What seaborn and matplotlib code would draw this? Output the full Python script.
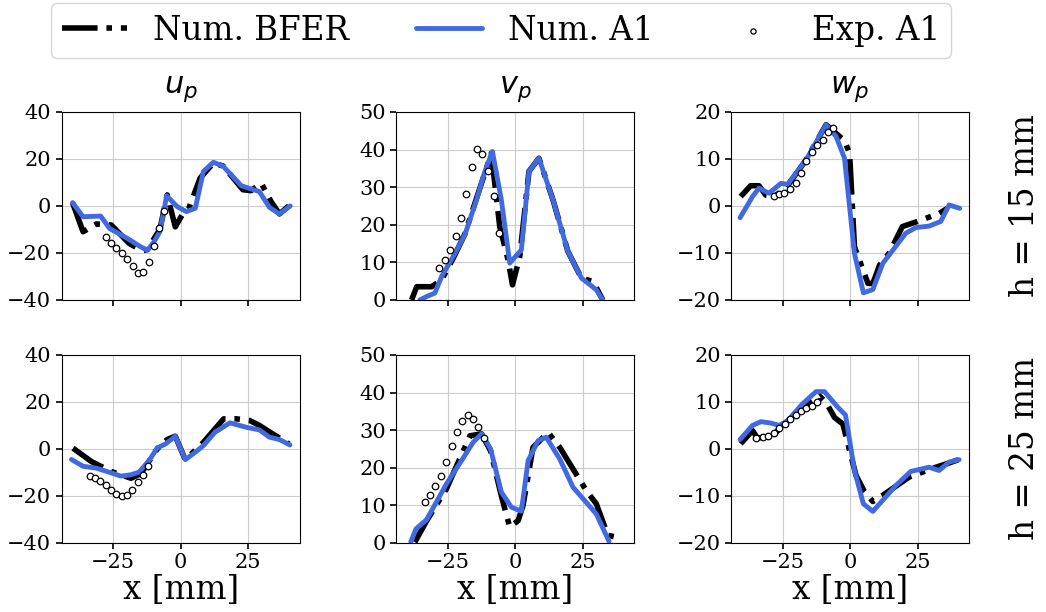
import matplotlib
matplotlib.use("Agg")
import matplotlib.pyplot as plt
import seaborn as sns

# --- данные: u_p, h = 15 mm
u15_bfer_x = [-40, -36.1, -31.2, -25.7, -19.0, -14.1, -12.3, -9.9, -7.7, -5.0, -2.0, 0.5, 3.0, 7.2, 12.1, 15.7, 23.0, 26.0, 29.8, 33.4, 36.5, 40]
u15_bfer_y = [1.4, -11.0, -7.7, -8.1, -16.0, -19.1, -18.5, -14.0, -10.0, 4.7, -8.9, -3.9, -1.0, 11.9, 18.3, 17.0, 6.9, 6.5, 9.7, 1.9, -3.4, 0.0]
u15_a1_x = [-40.0, -36.1, -29.6, -26.3, -19.6, -14.8, -12.3, -9.9, -7.7, -5.2, -1.3, 2.1, 5.4, 8.4, 12.1, 15.7, 22.4, 29.1, 32.8, 36.5, 40.5]
u15_a1_y = [1.4, -4.6, -4.3, -9.6, -13.9, -17.4, -18.9, -15.3, -11.0, 4.3, -0.3, -2.4, -1.0, 14.7, 18.6, 16.9, 8.6, 6.1, -0.6, -3.4, 0.0]
u15_exp_x = [-27.8, -25.7, -23.8, -21.8, -19.9, -17.8, -15.9, -13.9, -11.8, -9.9, -7.9, -6.0]
u15_exp_y = [-13.4, -15.6, -17.7, -20.0, -22.6, -25.7, -28.6, -28.3, -24.0, -17.1, -9.3, -2.0]

# --- v_p, h = 15 mm
v15_bfer_x = [-38.4, -36.5, -31.0, -27.3, -23.0, -18.7, -14.4, -8.9, -5.8, -2.7, -1.1, 1.6, 5.0, 8.7, 13.9, 19.4, 24.4, 28.7, 32.3]
v15_bfer_y = [0.0, 3.5, 3.5, 5.3, 11.1, 17.5, 27.0, 39.0, 19.5, 10.6, 4.0, 11.5, 34.2, 37.7, 26.6, 12.9, 5.8, 4.9, 0.0]
v15_a1_x = [-35.3, -32.8, -29.8, -27.3, -23.0, -18.7, -14.4, -11.3, -8.5, -5.2, -2.1, 2.2, 5.0, 8.7, 13.9, 19.4, 24.4, 29.9, 32.3]
v15_a1_y = [0.0, 0.9, 1.8, 6.2, 11.5, 17.3, 26.6, 34.2, 39.5, 26.6, 9.8, 13.3, 34.2, 37.7, 26.6, 12.9, 5.8, 2.7, 0.0]
v15_exp_x = [-28.2, -26.1, -24.1, -22.1, -20.2, -18.1, -16.1, -14.2, -12.2, -10.1, -8.1, -6.0]
v15_exp_y = [8.6, 10.6, 13.4, 16.9, 21.7, 28.2, 35.4, 40.1, 38.8, 34.3, 27.6, 17.9]

# --- w_p, h = 15 mm
w15_bfer_x = [-40.5, -36.8, -33.7, -31.2, -28.1, -23.8, -16.3, -8.9, -2.1, -0.2, 1.6, 6.6, 8.4, 10.9, 14.4, 19.3, 24.9, 32.9, 36.0]
w15_bfer_y = [2.0, 4.3, 4.3, 2.3, 2.0, 3.8, 9.8, 17.3, 13.9, 11.2, -8.7, -16.5, -16.5, -12.6, -10.1, -4.4, -3.3, -1.6, -0.5]
w15_a1_x = [-40.7, -36.1, -33.7, -30.0, -25.6, -23.1, -16.3, -8.9, -5.2, -2.1, 1.6, 4.9, 8.4, 12.1, 20.6, 24.3, 29.2, 33.5, 36.6, 40.5]
w15_a1_y = [-2.5, 2.0, 3.8, 2.7, 4.8, 4.6, 9.8, 17.3, 14.8, 10.2, -10.1, -18.5, -17.8, -12.2, -5.8, -4.6, -4.3, -3.3, 0.2, -0.5]
w15_exp_x = [-28.1, -26.2, -24.3, -22.2, -20.2, -18.2, -16.2, -14.2, -12.3, -10.1, -8.2, -6.2]
w15_exp_y = [2.1, 2.5, 2.8, 3.6, 4.8, 7.1, 9.5, 11.4, 12.9, 14.1, 15.7, 16.6]

# --- u_p, h = 25 mm
u25_bfer_x = [-39.8, -33.0, -25.7, -18.4, -14.8, -8.7, -5.0, -2.0, 1.7, 8.4, 15.9, 20.6, 25.5, 29.1, 34.0, 40.1]
u25_bfer_y = [0.3, -5.4, -9.6, -12.5, -10.6, 0.0, 4.0, 5.4, -4.6, 2.8, 12.8, 12.8, 12.1, 10.0, 6.4, 2.1]
u25_a1_x = [-40.4, -36.1, -31.2, -25.7, -22.1, -18.4, -15.4, -11.7, -8.7, -5.6, -2.0, 1.7, 5.4, 8.4, 12.7, 18.2, 24.3, 29.1, 32.8, 36.5, 40.4]
u25_a1_y = [-4.5, -7.4, -8.2, -10.2, -11.6, -11.0, -9.9, -5.0, 0.4, 2.1, 5.4, -4.6, -1.4, 1.4, 7.1, 11.1, 9.2, 8.1, 5.0, 4.0, 1.7]
u25_exp_x = [-33.7, -31.7, -29.8, -27.8, -25.7, -23.8, -21.8, -19.9, -17.9, -15.9, -13.9, -12.0]
u25_exp_y = [-11.6, -12.2, -13.5, -15.2, -17.7, -19.3, -20.1, -19.6, -17.6, -14.3, -11.0, -7.2]

# --- v_p, h = 25 mm
v25_bfer_x = [-37.2, -32.8, -25.5, -16.8, -12.5, -9.2, -5.2, -2.1, 1.0, 2.8, 6.5, 12.1, 16.4, 26.2, 29.9, 34.2, 37.5]
v25_bfer_y = [0.2, 5.9, 14.4, 28.5, 29.0, 24.5, 12.5, 4.2, 5.9, 9.9, 25.4, 29.4, 25.4, 13.9, 10.4, 2.0, 1.5]
v25_a1_x = [-38.7, -36.8, -32.8, -25.5, -19.9, -15.6, -12.5, -9.2, -5.2, -1.5, 2.2, 4.7, 8.4, 11.4, 16.4, 21.3, 29.9, 34.6]
v25_a1_y = [0.2, 3.7, 6.2, 15.7, 21.9, 26.8, 29.0, 25.0, 13.5, 9.5, 8.4, 21.9, 27.2, 28.1, 22.3, 14.8, 7.7, 0.4]
v25_exp_x = [-33.6, -31.6, -29.6, -27.7, -25.6, -23.6, -21.7, -19.7, -17.6, -15.6, -13.7, -11.6]
v25_exp_y = [11.0, 12.8, 15.0, 17.8, 21.6, 25.7, 29.5, 32.5, 34.1, 33.0, 30.9, 28.0]

# --- w_p, h = 25 mm
w25_bfer_x = [-40.5, -36.1, -34.3, -30.0, -27.5, -17.6, -11.4, -8.9, -5.8, -2.7, 2.2, 5.3, 8.4, 12.0, 21.8, 31.7, 36.6, 40.0]
w25_bfer_y = [1.1, 3.9, 2.3, 2.7, 3.5, 9.0, 11.3, 9.9, 6.7, 5.3, -5.7, -9.1, -11.2, -9.9, -6.0, -3.9, -3.0, -2.3]
w25_a1_x = [-40.7, -36.1, -33.0, -29.3, -26.2, -23.1, -17.6, -12.6, -9.5, -4.6, -1.7, 1.6, 4.9, 8.4, 16.9, 22.4, 29.2, 32.9, 36.6, 40.3]
w25_a1_y = [2.0, 5.0, 5.8, 5.5, 5.0, 6.0, 9.6, 12.2, 12.2, 8.9, 7.2, -4.6, -11.7, -13.3, -7.8, -4.8, -3.9, -4.6, -2.8, -2.3]
w25_exp_x = [-34.7, -32.4, -30.3, -28.1, -26.2, -24.1, -22.2, -20.2, -18.2, -16.2, -14.1, -12.1]
w25_exp_y = [2.3, 2.5, 2.7, 3.4, 4.4, 5.3, 6.4, 7.2, 8.1, 8.7, 9.2, 9.9]

titles = ["$u_p$", "$v_p$", "$w_p$"]
row_labels = ["h = 15 mm", "h = 25 mm"]
ylims = [(-40, 40), (0, 50), (-20, 20)]
yticks = [[-40, -20, 0, 20, 40], [0, 10, 20, 30, 40, 50], [-20, -10, 0, 10, 20]]
xticks = [-25, 0, 25]

panels = [
    [(u15_bfer_x, u15_bfer_y, u15_a1_x, u15_a1_y, u15_exp_x, u15_exp_y),
     (v15_bfer_x, v15_bfer_y, v15_a1_x, v15_a1_y, v15_exp_x, v15_exp_y),
     (w15_bfer_x, w15_bfer_y, w15_a1_x, w15_a1_y, w15_exp_x, w15_exp_y)],
    [(u25_bfer_x, u25_bfer_y, u25_a1_x, u25_a1_y, u25_exp_x, u25_exp_y),
     (v25_bfer_x, v25_bfer_y, v25_a1_x, v25_a1_y, v25_exp_x, v25_exp_y),
     (w25_bfer_x, w25_bfer_y, w25_a1_x, w25_a1_y, w25_exp_x, w25_exp_y)],
]

sns.set_style("whitegrid", rc={
    "axes.edgecolor": "black",
    "axes.linewidth": 1.5,
    "grid.color": "#cccccc",
    "xtick.bottom": True,
    "ytick.left": True,
    "xtick.color": "black",
    "ytick.color": "black",
    "text.color": "black",
    "axes.labelcolor": "black",
})
plt.rcParams["font.family"] = ["DejaVu Serif"]
plt.rcParams["mathtext.fontset"] = "dejavusans"

fig = plt.figure(figsize=(10.46, 6.12), dpi=100)
lefts = [0.059, 0.379, 0.699]
bottoms = [0.510, 0.113]
w, h = 0.2275, 0.307

for r in range(2):
    for c in range(3):
        ax = fig.add_axes([lefts[c], bottoms[r], w, h])
        bx, by, ax_, ay, ex, ey = panels[r][c]
        sns.lineplot(x=bx, y=by, ax=ax, color="black", lw=4, linestyle="-.",
                     sort=False, label="Num. BFER")
        sns.lineplot(x=ax_, y=ay, ax=ax, color="royalblue", lw=3.5,
                     sort=False, label="Num. A1")
        sns.scatterplot(x=ex, y=ey, ax=ax, marker="o", s=22, facecolor="white",
                        edgecolor="black", linewidth=0.9, label="Exp. A1", zorder=5)
        ax.set_xlim(-44, 44)
        ax.set_ylim(*ylims[c])
        ax.set_xticks(xticks)
        ax.set_yticks(yticks[c])
        ax.tick_params(labelsize=15, length=4, width=1.2)
        if r == 0:
            ax.set_xticklabels([])
            ax.set_title(titles[c], fontsize=22, pad=14)
        else:
            ax.set_xlabel("x [mm]", fontsize=23.5, labelpad=1)
        if r == 0 and c == 0:
            handles, labels = ax.get_legend_handles_labels()
        ax.get_legend().remove()
        for s in ax.spines.values():
            s.set_visible(True)

for r, lab in enumerate(row_labels):
    fig.text(0.98, bottoms[r] + h / 2, lab, rotation=90, fontsize=23.5,
             ha="center", va="center")

fig.legend(handles, labels, loc="upper center", bbox_to_anchor=(0.479, 1.0),
           ncol=3, fontsize=23.5, handlelength=2.0, columnspacing=2.05,
           borderpad=0.35, borderaxespad=0.1, markerscale=0.8)

fig.savefig("out.png", dpi=100)
